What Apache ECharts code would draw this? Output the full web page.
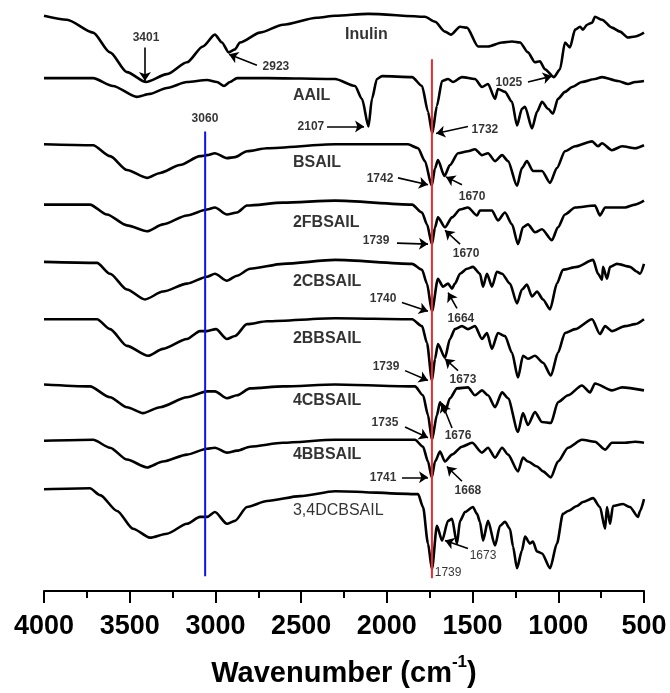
<!DOCTYPE html>
<html>
<head>
<meta charset="utf-8">
<script src="https://cdn.jsdelivr.net/npm/echarts@6/dist/echarts.min.js"></script>
<style>
html,body{margin:0;padding:0;background:#fff;width:670px;height:693px;overflow:hidden}
#c{position:absolute;left:0;top:0;width:670px;height:693px}
</style>
</head>
<body>
<div id="c"></div>
<script>
// Wavenumber (cm-1) and transmittance (stacked, arbitrary units)
const wnInulin = [4000,3866,3714,3615,3516,3405,3283,3166,3073,3003,2962,2923,2886,2857,2740,2606,2408,2302,2110,1778,1719,1661,1626,1573,1533,1468,1410,1328,1270,1223,1177,1136,1107,1078,1025,990,961,932,902,873,856,832,803,786,745,687,640,593,552,500];
const tInulin  = [582,578,565,545,525,515,523,535,551,563,555,545,548,555,565,573,580,582,584,581,576,566,563,571,570,551,551,555,556,555,545,535,536,528,520,528,555,550,568,571,568,573,575,581,578,570,566,560,561,565];

const wnAAIL = [4000,3714,3598,3458,3382,3283,3166,3049,2991,2950,2915,2874,2699,2302,2186,2145,2107,2087,2058,2028,1853,1795,1760,1735,1708,1678,1643,1614,1562,1486,1445,1410,1369,1352,1311,1270,1241,1212,1194,1153,1124,1095,1060,1031,1002,961,920,862,786,745,652,593,552,500];
const tAAIL  = [519,519,511,500,503,509,515,517,515,511,515,519,519,518,511,498,470,498,518,521,520,511,485,463,491,516,518,515,520,518,510,513,498,508,505,495,471,488,490,468,485,495,488,483,498,505,510,515,518,520,516,513,515,516];

const wnBSAIL = [4000,3714,3615,3516,3399,3323,3207,3090,3049,3003,2933,2886,2816,2699,2302,1877,1818,1778,1738,1719,1702,1664,1632,1585,1527,1486,1445,1410,1369,1328,1293,1241,1212,1183,1148,1095,1048,1008,961,902,803,768,745,687,628,552,500];
const tBSAIL  = [452,451,440,426,418,423,431,440,441,443,438,439,445,448,452,452,448,435,410,428,436,420,431,443,445,447,441,443,435,441,435,410,428,435,425,425,413,428,445,450,455,450,453,446,450,448,451];

const wn2FBSAIL = [4000,3732,3633,3516,3399,3306,3166,3049,3003,2933,2874,2816,2606,2302,1853,1795,1766,1737,1719,1702,1661,1620,1573,1527,1474,1457,1387,1352,1311,1270,1235,1206,1177,1136,1095,1037,1002,961,902,786,757,727,611,552,500];
const t2FBSAIL  = [391,391,381,370,364,371,380,386,388,381,383,390,393,395,391,383,371,351,368,378,368,378,386,388,380,385,385,375,383,371,351,368,371,363,366,355,368,381,388,390,380,388,388,391,395];

const wn2CBSAIL = [4000,3691,3615,3516,3411,3306,3166,3049,3003,2933,2874,2798,2606,2302,1853,1795,1766,1737,1702,1673,1643,1620,1603,1573,1533,1498,1457,1439,1416,1387,1358,1328,1282,1241,1212,1183,1153,1124,1089,1048,1008,973,891,797,768,745,739,716,698,658,582,541,523,500];
const t2CBSAIL  = [333,332,321,305,295,303,311,318,321,314,319,326,331,335,331,325,311,283,316,308,311,306,311,321,326,328,321,308,321,308,323,321,311,291,305,310,298,303,295,285,311,325,328,335,321,315,328,316,328,331,328,323,321,331];

const wn2BBSAIL = [4000,3691,3615,3516,3393,3306,3166,3090,3049,2997,2933,2886,2816,2699,2302,1853,1795,1766,1737,1719,1702,1661,1632,1603,1562,1527,1486,1445,1416,1387,1352,1311,1270,1235,1206,1177,1136,1089,1043,1002,961,902,803,757,727,687,611,552,500];
const t2BBSAIL  = [275,275,265,248,238,245,255,263,263,265,255,258,270,273,276,275,268,251,213,235,250,236,255,265,268,265,268,255,261,245,261,258,241,216,238,235,238,231,218,241,261,265,275,260,268,263,268,270,275];

const wn4CBSAIL = [4000,3732,3615,3516,3423,3323,3166,3049,3003,2933,2874,2798,2606,2302,1836,1789,1760,1737,1708,1690,1661,1632,1591,1527,1486,1445,1410,1369,1328,1293,1235,1206,1177,1136,1095,1043,1002,943,862,815,786,687,628,500];
const t4CBSAIL  = [209,207,196,186,180,186,196,202,202,195,198,205,207,209,207,198,178,153,178,191,181,195,205,206,198,203,198,186,201,195,161,180,168,181,171,170,191,198,208,201,210,203,206,203];

const wn4BBSAIL = [4000,3714,3615,3516,3399,3306,3166,3049,3003,2933,2874,2798,2606,2302,1836,1789,1760,1738,1719,1690,1661,1620,1562,1503,1445,1410,1369,1328,1293,1235,1206,1177,1124,1089,1043,1002,943,862,786,727,687,611,552,500];
const t4BBSAIL  = [152,153,145,133,125,131,138,144,145,140,142,146,150,153,153,146,131,115,131,141,131,138,146,150,140,145,135,145,138,121,135,131,126,121,115,131,145,153,151,143,150,150,151,150];

const wn34DCBSAIL = [4000,3732,3673,3574,3481,3382,3283,3166,3090,3049,3003,2933,2886,2816,2699,2507,2302,1818,1789,1760,1737,1708,1678,1643,1620,1591,1573,1544,1498,1474,1457,1439,1410,1369,1340,1311,1282,1264,1241,1212,1194,1165,1148,1124,1095,1048,1008,973,943,891,856,797,757,727,716,698,681,623,582,535,523,500];
const t34DCBSAIL  = [103,104,97,81,63,54,58,68,75,75,80,68,71,85,91,96,101,98,85,48,22,66,51,71,73,48,71,80,85,78,70,51,71,46,66,70,63,45,23,41,55,48,50,40,38,23,48,78,81,86,90,94,85,63,85,68,86,88,85,75,81,93];

const spectra = [
  [wnInulin, tInulin], [wnAAIL, tAAIL], [wnBSAIL, tBSAIL], [wn2FBSAIL, t2FBSAIL],
  [wn2CBSAIL, t2CBSAIL], [wn2BBSAIL, t2BBSAIL], [wn4CBSAIL, t4CBSAIL],
  [wn4BBSAIL, t4BBSAIL], [wn34DCBSAIL, t34DCBSAIL]
];

// Sample names: [wavenumber, level, text]
const nameLabels = [
  [2244, 563, 'Inulin'], [2548, 501, 'AAIL'], [2548, 433, 'BSAIL'], [2548, 373, '2FBSAIL'],
  [2548, 313, '2CBSAIL'], [2548, 255, '2BBSAIL'], [2548, 193, '4CBSAIL'], [2548, 138, '4BBSAIL']
];
const nameLabelsLight = [[2548, 81, '3,4DCBSAIL']];

// Peak annotations: [wavenumber, level, text]
const peakLabels = [
  [3405, 560, '3401'], [2647, 531, '2923'], [1288, 514, '1025'], [2443, 470, '2107'],
  [1428, 467, '1732'], [2040, 417, '1742'], [1503, 399, '1670'], [2063, 354, '1739'],
  [1538, 341, '1670'], [2022, 296, '1740'], [1568, 276, '1664'], [2005, 227, '1739'],
  [1556, 214, '1673'], [2011, 170, '1735'], [1585, 157, '1676'], [2022, 115, '1741'],
  [1527, 101, '1668'], [3061, 478, '3060']
];
const peakLabelsLight = [[1439, 36, '1673'], [1643, 19, '1739']];

// Arrows: [fromWn, fromLevel, toWn, toLevel]
const arrows = [
  [3411, 550, 3411, 516], [2758, 532, 2921, 543], [1177, 515, 1037, 521], [2349, 470, 2133, 470],
  [1527, 470, 1713, 463], [1935, 418, 1760, 411], [1562, 411, 1655, 419], [1941, 352, 1760, 351],
  [1573, 351, 1661, 365], [1912, 292, 1760, 283], [1591, 286, 1643, 302], [1894, 223, 1760, 213],
  [1585, 223, 1661, 235], [1894, 166, 1760, 155], [1620, 165, 1678, 190], [1912, 115, 1760, 115],
  [1562, 111, 1650, 126], [1527, 43, 1661, 51]
];

// Reference lines
const blueLine = [[3060, 465], [3060, 15]];
const redLine = [[1737, 538], [1737, 13]];

const xTicks = [4000, 3500, 3000, 2500, 2000, 1500, 1000, 500];

const FONT = 'Arial, "Liberation Sans", sans-serif';
const chart = echarts.init(document.getElementById('c'), null, {renderer: 'canvas', width: 670, height: 693});

const series = spectra.map(([wn, t]) => ({
  type: 'line',
  data: wn.map((w, i) => [w, t[i]]),
  showSymbol: false,
  symbol: 'none',
  smooth: 0.25,
  smoothMonotone: 'x',
  lineStyle: {color: '#000', width: 2.6},
  silent: true,
  z: 2
}));

series.push({
  type: 'line', data: blueLine, showSymbol: false, symbol: 'none',
  lineStyle: {color: '#1010f0', width: 2}, silent: true, z: 3
});
series.push({
  type: 'line', data: redLine, showSymbol: false, symbol: 'none',
  lineStyle: {color: '#ee2a33', width: 2}, silent: true, z: 3
});

series.push({
  type: 'lines', coordinateSystem: 'cartesian2d', silent: true, z: 4,
  symbol: ['none', 'arrow'], symbolSize: 9,
  lineStyle: {color: '#000', width: 1.6, opacity: 1},
  data: arrows.map(a => ({coords: [[a[0], a[1]], [a[2], a[3]]]}))
});

function labelSeries(arr, opts) {
  return {
    type: 'scatter', data: arr, symbolSize: 0, silent: true, z: 5,
    label: Object.assign({
      show: true, formatter: p => p.data[2], color: '#000', fontFamily: FONT
    }, opts)
  };
}
series.push(labelSeries(nameLabels, {position: 'right', distance: 0, fontSize: 16, fontWeight: 'bold'}));
series.push(labelSeries(nameLabelsLight, {position: 'right', distance: 0, fontSize: 16, fontWeight: 'normal'}));
series.push(labelSeries(peakLabels, {position: 'inside', fontSize: 12, fontWeight: 'bold'}));
series.push(labelSeries(peakLabelsLight, {position: 'inside', fontSize: 12, fontWeight: 'normal'}));

chart.setOption({
  animation: false,
  backgroundColor: '#fff',
  grid: {left: 44, right: 26, top: 0, bottom: 95, containLabel: false},
  xAxis: {
    type: 'value', inverse: true, min: 500, max: 4000, interval: 500, splitNumber: 7,
    axisLine: {show: true, lineStyle: {color: '#000', width: 2}},
    axisTick: {show: true, inside: false, length: 12, lineStyle: {color: '#000', width: 2}},
    minorTick: {show: true, splitNumber: 2, length: 7, lineStyle: {color: '#000', width: 2}},
    splitLine: {show: false},
    axisLabel: {
      margin: 22, color: '#000', fontSize: 27, fontWeight: 'bold', fontFamily: FONT,
      formatter: v => xTicks.includes(v) ? String(v) : ''
    },
    name: '{a|Wavenumber (cm}{b|-1}{a|)}',
    nameLocation: 'middle', nameGap: 63,
    nameTextStyle: {
      rich: {
        a: {fontSize: 29, fontWeight: 'bold', fontFamily: FONT, color: '#000', lineHeight: 34, verticalAlign: 'bottom'},
        b: {fontSize: 17, fontWeight: 'bold', fontFamily: FONT, color: '#000', lineHeight: 34, verticalAlign: 'top'}
      }
    }
  },
  yAxis: {type: 'value', min: 0, max: 598, show: false},
  series: series
});
</script>
</body>
</html>
